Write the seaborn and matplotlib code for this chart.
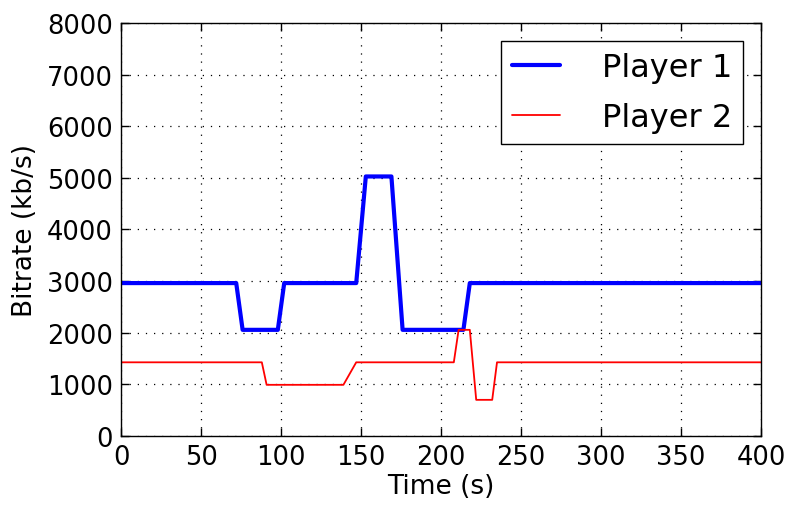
import matplotlib
matplotlib.use("Agg")
import matplotlib.pyplot as plt
import seaborn as sns
import pandas as pd

# time (s) / bitrate (kb/s)
p1_time = [0, 72, 76, 98, 102, 147, 153, 169, 176, 214, 218, 400]
p1_rate = [2962, 2962, 2056, 2056, 2962, 2962, 5027, 5027, 2056, 2056, 2962, 2962]
p2_time = [0, 88, 91, 139, 147, 208, 211, 218, 222, 232, 235, 400]
p2_rate = [1427, 1427, 991, 991, 1427, 1427, 2056, 2056, 700, 700, 1427, 1427]

sns.set_style("ticks")
plt.rcParams["font.family"] = ["DejaVu Sans"]
plt.rcParams["text.color"] = "black"
plt.rcParams["axes.labelcolor"] = "black"
plt.rcParams["xtick.color"] = "black"
plt.rcParams["ytick.color"] = "black"
plt.rcParams["xtick.direction"] = "in"
plt.rcParams["ytick.direction"] = "in"

df1 = pd.DataFrame({"t": p1_time, "r": p1_rate})
df2 = pd.DataFrame({"t": p2_time, "r": p2_rate})

fig = plt.figure(figsize=(7.89, 5.06), dpi=100)
ax = fig.add_axes([0.1534, 0.1364, 0.8111, 0.8162])

sns.lineplot(data=df1, x="t", y="r", ax=ax, color="blue", lw=3, label="Player 1",
             estimator=None, sort=False)
sns.lineplot(data=df2, x="t", y="r", ax=ax, color="red", lw=1.3, label="Player 2",
             estimator=None, sort=False)

ax.set_xlim(0, 400)
ax.set_ylim(0, 8000)
ax.set_xticks(range(0, 401, 50))
ax.set_yticks(range(0, 8001, 1000))
ax.grid(True, color="black", linewidth=0.9, dashes=(1, 5.5))
ax.tick_params(labelsize=18.5, length=6, width=1, top=True, right=True, pad=6)
ax.set_xlabel("Time (s)", fontsize=19, labelpad=2)
ax.set_ylabel("Bitrate (kb/s)", fontsize=19, labelpad=6)
for s in ax.spines.values():
    s.set_linewidth(1.0)
    s.set_color("black")

leg = ax.legend(loc="upper right", fontsize=23, fancybox=False, framealpha=1,
                edgecolor="black", handlelength=1.5, handletextpad=1.3,
                borderpad=0.35, labelspacing=0.6, borderaxespad=0.55)
leg.get_frame().set_linewidth(1.0)

fig.savefig("out.png", dpi=100)
